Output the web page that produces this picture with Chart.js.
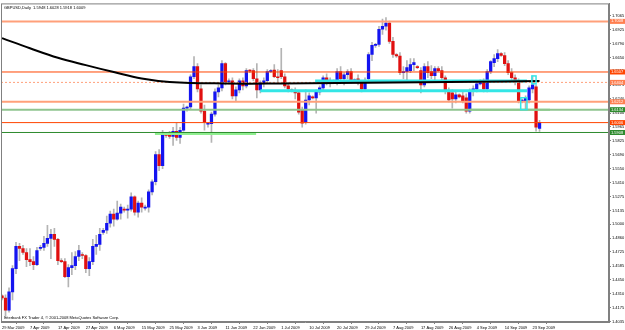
<!DOCTYPE html>
<html>
<head>
<meta charset="utf-8">
<script src="https://cdn.jsdelivr.net/npm/chart.js@4.4.1/dist/chart.umd.min.js"></script>
<style>
html, body { margin: 0; padding: 0; background: #fff; }
</style>
</head>
<body>
<canvas id="priceChart" width="625" height="330"></canvas>
<script>
// GBPUSD daily, 29 Mar 2009 - 25 Sep 2009 (one bar per trading day, Sunday bars included)
const chartTitle = 'GBPUSD,Daily  1.5948 1.6028 1.5918 1.6009';
const creditText = 'Interbank FX Trader 4, \u00a9 2001-2008 MetaQuotes Software Corp.';

// x axis labels, one every 8 bars
const dateLabels = ['29 Mar 2009', '7 Apr 2009', '17 Apr 2009', '27 Apr 2009', '6 May 2009', '15 May 2009',
  '25 May 2009', '3 Jun 2009', '11 Jun 2009', '22 Jun 2009', '1 Jul 2009', '10 Jul 2009', '20 Jul 2009',
  '29 Jul 2009', '7 Aug 2009', '17 Aug 2009', '26 Aug 2009', '4 Sep 2009', '14 Sep 2009', '23 Sep 2009'];

// price axis labels
const priceTicks = [1.7065, 1.6925, 1.6790, 1.6650, 1.6515, 1.6375, 1.6240, 1.6100, 1.5965, 1.5825, 1.5690,
  1.5550, 1.5410, 1.5275, 1.5135, 1.5000, 1.4860, 1.4725, 1.4585, 1.4450, 1.4310, 1.4175, 1.4035];

const opens = [
  1.4290, 1.4270, 1.4150, 1.4330, 1.4560, 1.4780, 1.4760, 1.4720, 1.4650, 1.4630,
  1.4600, 1.4760, 1.4770, 1.4810, 1.4860, 1.4900, 1.4850, 1.4640, 1.4630, 1.4480,
  1.4570, 1.4590, 1.4680, 1.4700, 1.4690, 1.4560, 1.4630, 1.4780, 1.4800, 1.4920,
  1.4940, 1.5010, 1.5100, 1.5050, 1.5110, 1.5150, 1.5140, 1.5150, 1.5270, 1.5120,
  1.5210, 1.5160, 1.5170, 1.5320, 1.5420, 1.5690, 1.5580, 1.5890, 1.5880, 1.5870,
  1.5920, 1.5860, 1.5930, 1.6150, 1.6160, 1.6460, 1.6560, 1.6340, 1.6120, 1.5990,
  1.5995, 1.6090, 1.6310, 1.6350, 1.6590, 1.6410, 1.6420, 1.6270, 1.6330, 1.6420,
  1.6370, 1.6520, 1.6520, 1.6440, 1.6330, 1.6400, 1.6420, 1.6510, 1.6525, 1.6460,
  1.6520, 1.6460, 1.6370, 1.6330, 1.6320, 1.6300, 1.6130, 1.6010, 1.6230, 1.6260,
  1.6250, 1.6310, 1.6350, 1.6450, 1.6400, 1.6420, 1.6410, 1.6510, 1.6440, 1.6480,
  1.6510, 1.6420, 1.6440, 1.6400, 1.6340, 1.6440, 1.6680, 1.6770, 1.6780, 1.6930,
  1.6960, 1.6990, 1.6810, 1.6680, 1.6665, 1.6500, 1.6510, 1.6520, 1.6580, 1.6560,
  1.6520, 1.6380, 1.6560, 1.6510, 1.6470, 1.6540, 1.6520, 1.6450, 1.6320, 1.6300,
  1.6240, 1.6280, 1.6270, 1.6250, 1.6120, 1.6320, 1.6340, 1.6390, 1.6420, 1.6340,
  1.6510, 1.6600, 1.6640, 1.6690, 1.6670, 1.6590, 1.6500, 1.6450, 1.6420, 1.6220,
  1.6220, 1.6230, 1.6340, 1.6360, 1.5948];
const highs = [
  1.4300, 1.4300, 1.4370, 1.4590, 1.4820, 1.4810, 1.4790, 1.4760, 1.4760, 1.4680,
  1.4770, 1.4790, 1.4880, 1.4990, 1.4950, 1.4960, 1.4860, 1.4660, 1.4660, 1.4600,
  1.4720, 1.4730, 1.4790, 1.4720, 1.4700, 1.4670, 1.4850, 1.4890, 1.4960, 1.4960,
  1.5080, 1.5130, 1.5150, 1.5230, 1.5200, 1.5170, 1.5190, 1.5310, 1.5280, 1.5230,
  1.5260, 1.5190, 1.5340, 1.5440, 1.5720, 1.5740, 1.5930, 1.5910, 1.5920, 1.5960,
  1.6000, 1.5960, 1.6190, 1.6170, 1.6480, 1.6660, 1.6590, 1.6380, 1.6180, 1.6000,
  1.6110, 1.6340, 1.6380, 1.6620, 1.6600, 1.6440, 1.6450, 1.6360, 1.6440, 1.6450,
  1.6540, 1.6530, 1.6540, 1.6590, 1.6420, 1.6450, 1.6530, 1.6530, 1.6580, 1.6530,
  1.6740, 1.6490, 1.6400, 1.6340, 1.6350, 1.6320, 1.6160, 1.6330, 1.6300, 1.6270,
  1.6330, 1.6370, 1.6470, 1.6490, 1.6450, 1.6430, 1.6540, 1.6560, 1.6500, 1.6530,
  1.6540, 1.6440, 1.6480, 1.6420, 1.6450, 1.6700, 1.6800, 1.6790, 1.6960, 1.7030,
  1.7045, 1.7010, 1.6850, 1.6690, 1.6700, 1.6560, 1.6620, 1.6640, 1.6640, 1.6570,
  1.6550, 1.6590, 1.6610, 1.6570, 1.6560, 1.6560, 1.6560, 1.6470, 1.6350, 1.6330,
  1.6320, 1.6290, 1.6310, 1.6290, 1.6340, 1.6370, 1.6420, 1.6430, 1.6440, 1.6530,
  1.6620, 1.6680, 1.6730, 1.6700, 1.6700, 1.6620, 1.6540, 1.6480, 1.6440, 1.6240,
  1.6270, 1.6370, 1.6470, 1.6380, 1.6028];
const lows = [
  1.4250, 1.4080, 1.4130, 1.4250, 1.4510, 1.4640, 1.4700, 1.4580, 1.4590, 1.4550,
  1.4590, 1.4740, 1.4740, 1.4780, 1.4660, 1.4780, 1.4600, 1.4620, 1.4470, 1.4380,
  1.4500, 1.4550, 1.4640, 1.4660, 1.4520, 1.4490, 1.4600, 1.4700, 1.4740, 1.4900,
  1.4910, 1.4970, 1.4980, 1.5040, 1.5050, 1.5120, 1.5060, 1.5130, 1.5090, 1.5070,
  1.5120, 1.5140, 1.5120, 1.5290, 1.5390, 1.5530, 1.5550, 1.5860, 1.5850, 1.5780,
  1.5830, 1.5800, 1.5920, 1.6120, 1.6140, 1.6440, 1.6310, 1.6100, 1.5930, 1.5960,
  1.5810, 1.6070, 1.6260, 1.6320, 1.6380, 1.6390, 1.6240, 1.6220, 1.6300, 1.6330,
  1.6350, 1.6500, 1.6420, 1.6250, 1.6300, 1.6360, 1.6400, 1.6500, 1.6450, 1.6400,
  1.6440, 1.6350, 1.6310, 1.6310, 1.6240, 1.6090, 1.5960, 1.5990, 1.6180, 1.6240,
  1.6100, 1.6280, 1.6320, 1.6380, 1.6360, 1.6400, 1.6380, 1.6420, 1.6380, 1.6440,
  1.6400, 1.6410, 1.6380, 1.6310, 1.6320, 1.6400, 1.6620, 1.6750, 1.6760, 1.6880,
  1.6920, 1.6790, 1.6650, 1.6650, 1.6480, 1.6440, 1.6430, 1.6500, 1.6520, 1.6540,
  1.6300, 1.6360, 1.6450, 1.6440, 1.6430, 1.6510, 1.6420, 1.6290, 1.6210, 1.6150,
  1.6200, 1.6250, 1.6200, 1.6100, 1.6100, 1.6270, 1.6310, 1.6380, 1.6310, 1.6310,
  1.6490, 1.6560, 1.6610, 1.6660, 1.6570, 1.6480, 1.6420, 1.6380, 1.6200, 1.6200,
  1.6130, 1.6200, 1.6300, 1.5920, 1.5918];
const closes = [
  1.4270, 1.4150, 1.4330, 1.4560, 1.4780, 1.4760, 1.4720, 1.4650, 1.4630, 1.4600,
  1.4740, 1.4770, 1.4810, 1.4860, 1.4900, 1.4850, 1.4640, 1.4630, 1.4480, 1.4570,
  1.4590, 1.4680, 1.4740, 1.4690, 1.4560, 1.4630, 1.4780, 1.4800, 1.4900, 1.4940,
  1.5010, 1.5100, 1.5050, 1.5110, 1.5170, 1.5140, 1.5150, 1.5270, 1.5120, 1.5210,
  1.5170, 1.5170, 1.5320, 1.5420, 1.5690, 1.5580, 1.5900, 1.5880, 1.5870, 1.5920,
  1.5860, 1.5930, 1.6150, 1.6160, 1.6460, 1.6560, 1.6340, 1.6120, 1.6010, 1.5995,
  1.6090, 1.6310, 1.6350, 1.6590, 1.6410, 1.6420, 1.6270, 1.6330, 1.6420, 1.6370,
  1.6520, 1.6515, 1.6440, 1.6330, 1.6400, 1.6420, 1.6510, 1.6520, 1.6460, 1.6450,
  1.6460, 1.6370, 1.6340, 1.6320, 1.6300, 1.6110, 1.6000, 1.6230, 1.6270, 1.6250,
  1.6310, 1.6350, 1.6450, 1.6400, 1.6420, 1.6410, 1.6510, 1.6440, 1.6480, 1.6510,
  1.6420, 1.6430, 1.6400, 1.6340, 1.6420, 1.6680, 1.6770, 1.6780, 1.6930, 1.6960,
  1.6990, 1.6810, 1.6680, 1.6665, 1.6500, 1.6510, 1.6550, 1.6580, 1.6600, 1.6550,
  1.6380, 1.6560, 1.6500, 1.6470, 1.6540, 1.6520, 1.6450, 1.6320, 1.6230, 1.6240,
  1.6280, 1.6260, 1.6220, 1.6120, 1.6320, 1.6340, 1.6390, 1.6420, 1.6340, 1.6510,
  1.6610, 1.6640, 1.6690, 1.6670, 1.6590, 1.6500, 1.6450, 1.6420, 1.6220, 1.6230,
  1.6250, 1.6350, 1.6380, 1.5960, 1.6009];

// long moving average, read at a few bars
const maBars = [0, 8, 16, 24, 32, 40, 48, 64, 80, 96, 112, 128, 144, 154];
const maValues = [1.6842, 1.6742, 1.6648, 1.6575, 1.6506, 1.6442, 1.6408, 1.6393, 1.6393, 1.6398, 1.6403, 1.6408, 1.6413, 1.6418];

// horizontal price levels across the whole chart
const levelPrices = [1.7008, 1.6507, 1.6404, 1.6212, 1.6134, 1.6006, 1.5908];
// zones drawn over part of the chart
const zonePrices = [1.6419, 1.6321, 1.5898, 1.6134];
const zoneFrom = [89.7, 74, 43.8, 134];
const zoneTo = [150.4, 150.4, 72.8, 157];
// small boxes near the end
const boxFrom = [148.6, 151.8];
const boxTo = [150.4, 153.0];
const boxTop = [1.6252, 1.6468];
const boxBottom = [1.6134, 1.6390];

const levelStyles = [
  { color: '#ffa07a', width: 2, dash: [] },
  { color: '#ff4500', width: 1, dash: [] },
  { color: '#ffa07a', width: 1, dash: [2, 2] },
  { color: '#ffa07a', width: 2, dash: [] },
  { color: '#8fc48f', width: 2, dash: [] },
  { color: '#ff4500', width: 1, dash: [] },
  { color: '#2e8b2e', width: 1, dash: [] }
];
const labelBoxColors = ['#ff7f50', '#ff4500', '#ff7f50', '#ff7f50', '#2e8b2e', '#ff4500', '#2e8b2e'];
const zoneStyles = [
  { color: '#33e6e6', width: 3 },
  { color: '#33e6e6', width: 3 },
  { color: '#90ee90', width: 3 },
  { color: '#7fe07f', width: 2 }
];

const X_MIN = -0.3, X_MAX = 173.9;
const FONT = { family: 'Liberation Sans', size: 4 };

const wickData = highs.map((h, i) => ({ x: i, y: [lows[i], h] }));
const bodyData = opens.map((o, i) => ({ x: i, y: [o, closes[i]] }));
const bodyColors = opens.map((o, i) => closes[i] >= o ? '#1414f0' : '#e01010');

const datasets = [];
levelPrices.forEach((p, i) => {
  datasets.push({
    type: 'line', data: [{ x: X_MIN, y: p }, { x: X_MAX, y: p }],
    borderColor: levelStyles[i].color, borderWidth: levelStyles[i].width, borderDash: levelStyles[i].dash,
    pointRadius: 0, order: 1
  });
});
zonePrices.forEach((p, i) => {
  datasets.push({
    type: 'line', data: [{ x: zoneFrom[i], y: p }, { x: zoneTo[i], y: p }],
    borderColor: zoneStyles[i].color, borderWidth: zoneStyles[i].width,
    pointRadius: 0, order: 1
  });
});
datasets.push({
  type: 'line', data: maBars.map((b, i) => ({ x: b, y: maValues[i] })),
  borderColor: '#000', borderWidth: 2, pointRadius: 0, tension: 0.4, order: 0
});
datasets.push({
  type: 'bar', data: wickData, backgroundColor: '#b4b4b4', barThickness: 1, grouped: false, order: 3
});
datasets.push({
  type: 'bar', data: bodyData, backgroundColor: bodyColors, barThickness: 2.6, minBarLength: 1, grouped: false, order: 2
});

const mtOverlay = {
  id: 'mtOverlay',
  afterDatasetsDraw(chart) {
    const { ctx, chartArea: a, scales } = chart;
    ctx.save();
    ctx.beginPath();
    ctx.rect(a.left, a.top, a.right - a.left, a.bottom - a.top);
    ctx.clip();
    ctx.strokeStyle = '#33e6e6';
    ctx.lineWidth = 1.5;
    boxFrom.forEach((b, i) => {
      const x0 = scales.x.getPixelForValue(b), x1 = scales.x.getPixelForValue(boxTo[i]);
      const y0 = scales.y.getPixelForValue(boxTop[i]), y1 = scales.y.getPixelForValue(boxBottom[i]);
      ctx.strokeRect(x0, y0, x1 - x0, y1 - y0);
    });
    ctx.restore();
  },
  afterDraw(chart) {
    const { ctx, chartArea: a, scales } = chart;
    ctx.save();
    ctx.strokeStyle = '#808080';
    ctx.lineWidth = 1;
    ctx.strokeRect(a.left + 0.5, a.top + 0.5, a.right - a.left - 1, a.bottom - a.top - 1);
    ctx.font = '4px "Liberation Sans"';
    ctx.fillStyle = '#000';
    ctx.textBaseline = 'middle';
    ctx.fillText(chartTitle, a.left + 3, a.top + 4);
    ctx.fillText(creditText, a.left + 3, a.bottom - 4);
    // price labels on the axis
    levelPrices.forEach((p, i) => {
      const y = scales.y.getPixelForValue(p);
      ctx.fillStyle = labelBoxColors[i];
      ctx.fillRect(a.right + 1, y - 2.5, 15, 5);
      ctx.fillStyle = '#fff';
      ctx.fillText(p.toFixed(4), a.right + 2, y);
    });
    ctx.restore();
  }
};

new Chart(document.getElementById('priceChart'), {
  type: 'bar',
  data: { datasets: datasets },
  plugins: [mtOverlay],
  options: {
    responsive: false,
    animation: false,
    devicePixelRatio: 1,
    layout: { padding: { top: 2, left: 1, right: 0, bottom: 0 } },
    plugins: { legend: { display: false }, tooltip: { enabled: false } },
    scales: {
      x: {
        type: 'linear', min: X_MIN, max: X_MAX, offset: false,
        afterBuildTicks(scale) { scale.ticks = dateLabels.map((d, i) => ({ value: i * 8 })); },
        afterFit(scale) { scale.height = 8; },
        ticks: {
          autoSkip: false, maxRotation: 0, minRotation: 0, align: 'start', padding: 1,
          font: FONT, color: '#000',
          callback: (v) => dateLabels[Math.round(v / 8)]
        },
        grid: { drawOnChartArea: false, tickLength: 2, color: '#808080' },
        border: { color: '#808080' }
      },
      y: {
        type: 'linear', position: 'right', min: 1.4032, max: 1.7186,
        afterBuildTicks(scale) { scale.ticks = priceTicks.map(v => ({ value: v })); },
        afterFit(scale) { scale.width = 16; },
        ticks: { font: FONT, color: '#000', padding: 1, callback: (v) => v.toFixed(4) },
        grid: { drawOnChartArea: false, tickLength: 2, color: '#808080' },
        border: { color: '#808080' }
      }
    }
  }
});
</script>
</body>
</html>
